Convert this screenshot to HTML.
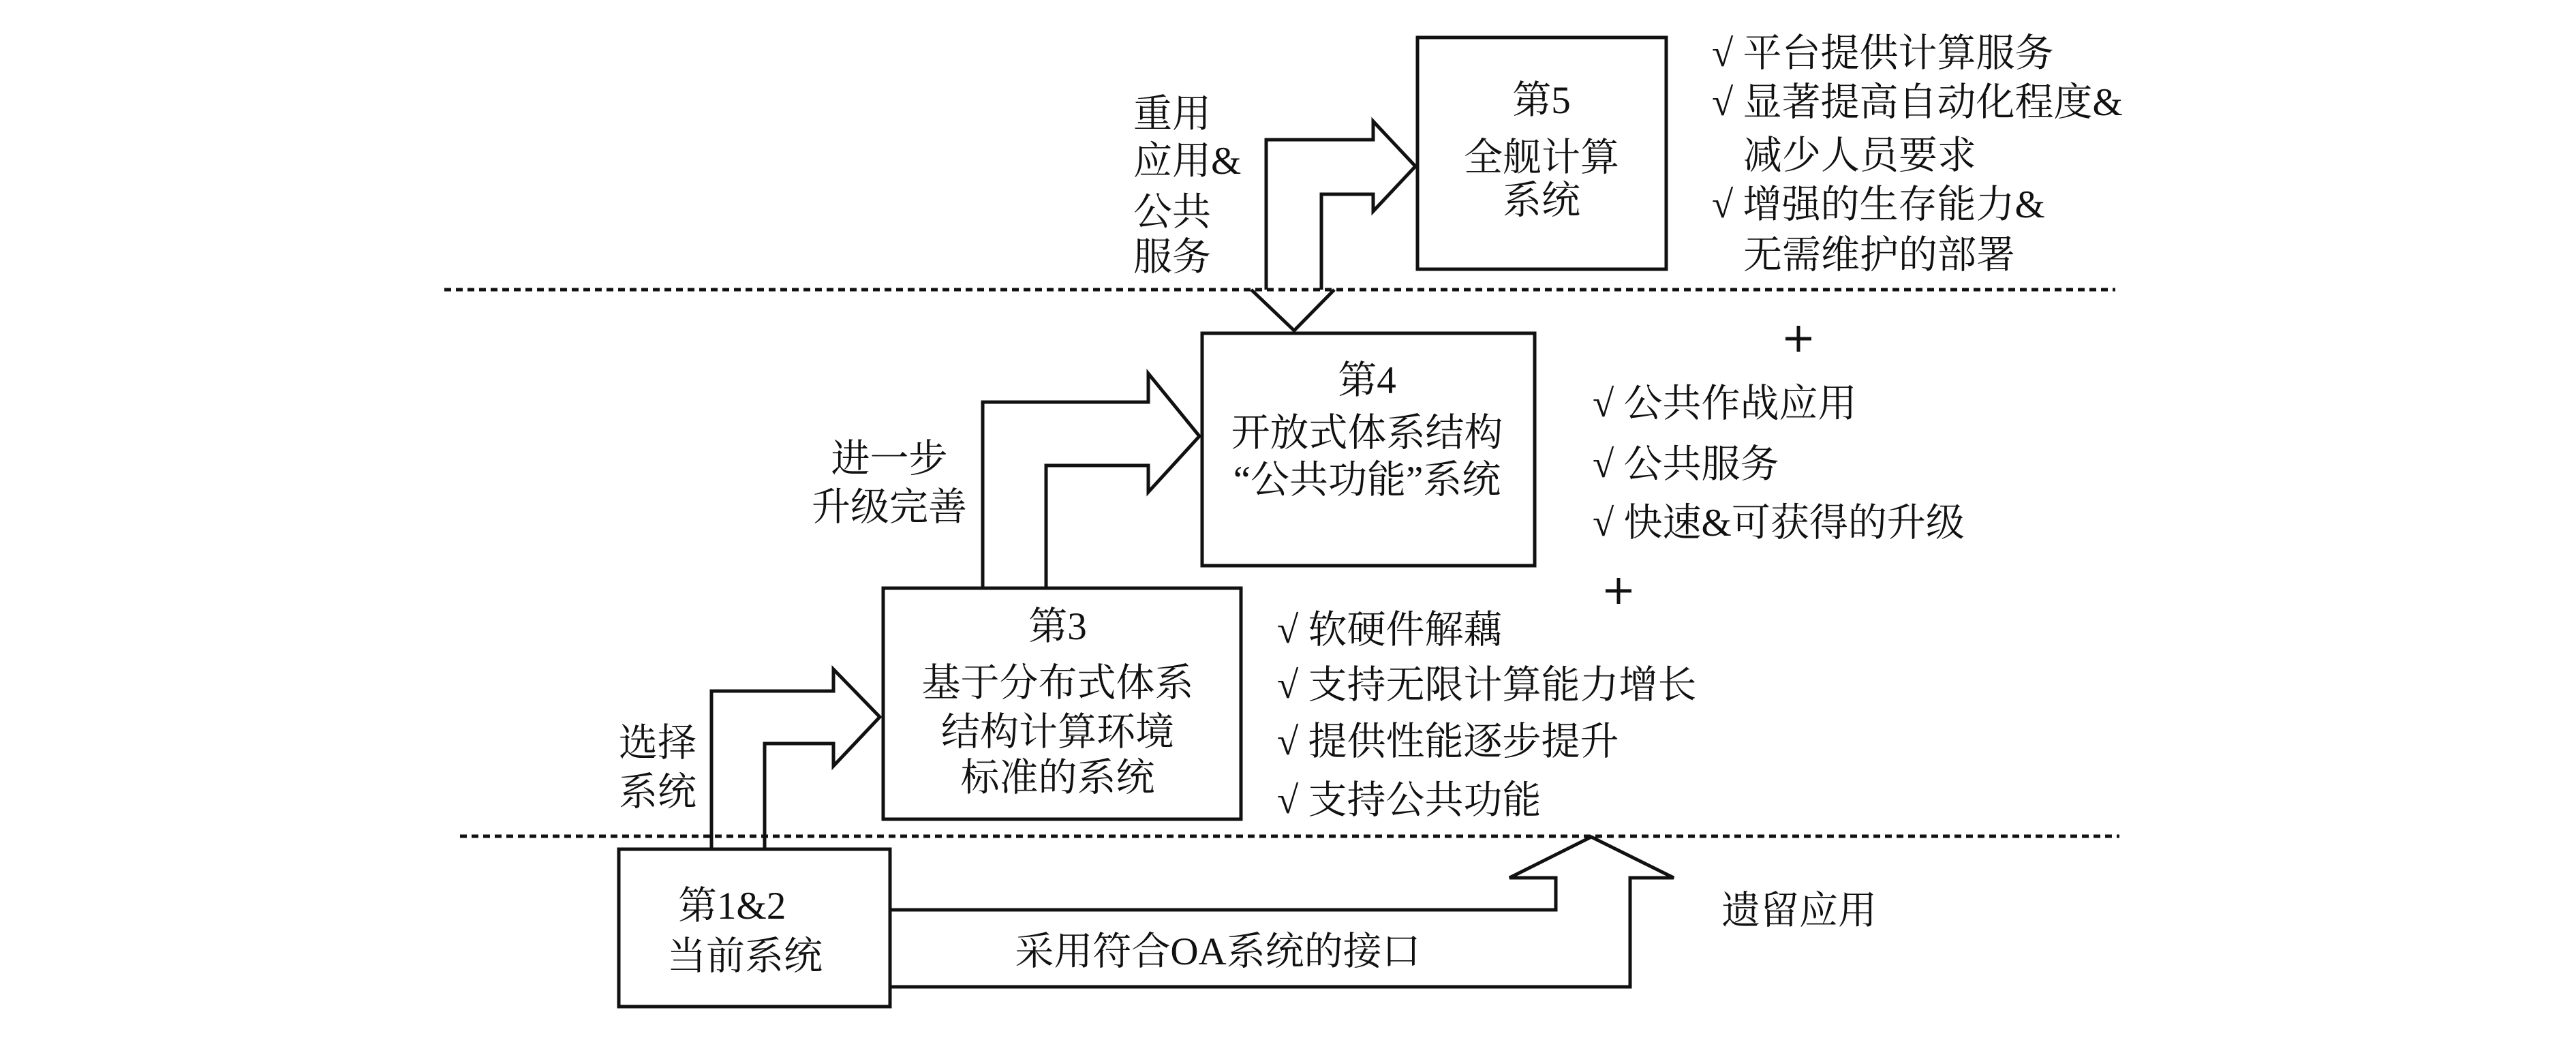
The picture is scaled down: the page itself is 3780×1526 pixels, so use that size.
<!DOCTYPE html>
<html><head><meta charset="utf-8"><style>
html,body{margin:0;padding:0;background:#fff;}
svg{display:block;}
text{font-family:"Liberation Serif","Noto Serif CJK SC","Noto Sans CJK SC",serif;font-size:57px;fill:#111;}
</style></head><body>
<svg width="3780" height="1526" viewBox="0 0 3780 1526" xmlns="http://www.w3.org/2000/svg">
<g stroke="#111" stroke-width="5" fill="none" stroke-dasharray="10 7">
<line x1="652" y1="425" x2="3104" y2="425"/>
<line x1="675" y1="1227" x2="3110" y2="1227"/>
</g>
<g stroke="#111" stroke-width="5" fill="none">
<rect x="2080" y="55" width="365" height="340"/>
<rect x="1764" y="489" width="488" height="341"/>
<rect x="1296" y="863" width="525" height="339"/>
<rect x="908" y="1246" width="398" height="231"/>
<polyline points="1858,425 1858,205 2015,205 2015,178 2077,244 2015,310 2015,285 1939,285 1939,425"/>
<polyline points="1836,425 1899,485 1958,425"/>
<polyline points="1442,863 1442,590 1685,590 1685,548 1760,640 1685,722 1685,683 1535,683 1535,863"/>
<polyline points="1044,1246 1044,1014 1223,1014 1223,982 1291,1052 1223,1124 1223,1091 1122,1091 1122,1246"/>
<polyline points="1306,1335 2283,1335 2283,1288 2215,1288 2335,1228 2456,1288 2392,1288 2392,1448 1306,1448"/>
<!-- plus signs -->
<path d="M2620,497 h38 M2639,478 v38"/>
<path d="M2356,867 h38 M2375,848 v38"/>
</g>
<g text-anchor="middle">
<text x="2262" y="166">第5</text>
<text x="2262" y="250">全舰计算</text>
<text x="2262" y="313">系统</text>
<text x="2006" y="577">第4</text>
<text x="2006" y="654">开放式体系结构</text>
<text x="2006" y="723">“公共功能”系统</text>
<text x="1552" y="938">第3</text>
<text x="1552" y="1021">基于分布式体系</text>
<text x="1552" y="1093">结构计算环境</text>
<text x="1552" y="1160">标准的系统</text>
<text x="1305" y="692">进一步</text>
<text x="1305" y="763">升级完善</text>
<text x="1787" y="1415">采用符合OA系统的接口</text>
</g>
<text x="995" y="1348">第1&amp;2</text>
<text x="979" y="1422">当前系统</text>
<text x="1663" y="186">重用</text>
<text x="1663" y="255">应用&amp;</text>
<text x="1663" y="330">公共</text>
<text x="1663" y="396">服务</text>
<text x="908" y="1109">选择</text>
<text x="908" y="1181">系统</text>
<text x="2526" y="1355">遗留应用</text>
<text x="2512" y="97">√ 平台提供计算服务</text>
<text x="2512" y="169">√ 显著提高自动化程度&amp;</text>
<text x="2558" y="247">减少人员要求</text>
<text x="2512" y="319">√ 增强的生存能力&amp;</text>
<text x="2558" y="393">无需维护的部署</text>
<text x="2337" y="611">√ 公共作战应用</text>
<text x="2337" y="700">√ 公共服务</text>
<text x="2337" y="786">√ 快速&amp;可获得的升级</text>
<text x="1874" y="943">√ 软硬件解藕</text>
<text x="1874" y="1024">√ 支持无限计算能力增长</text>
<text x="1874" y="1107">√ 提供性能逐步提升</text>
<text x="1874" y="1193">√ 支持公共功能</text>
</svg>
</body></html>
